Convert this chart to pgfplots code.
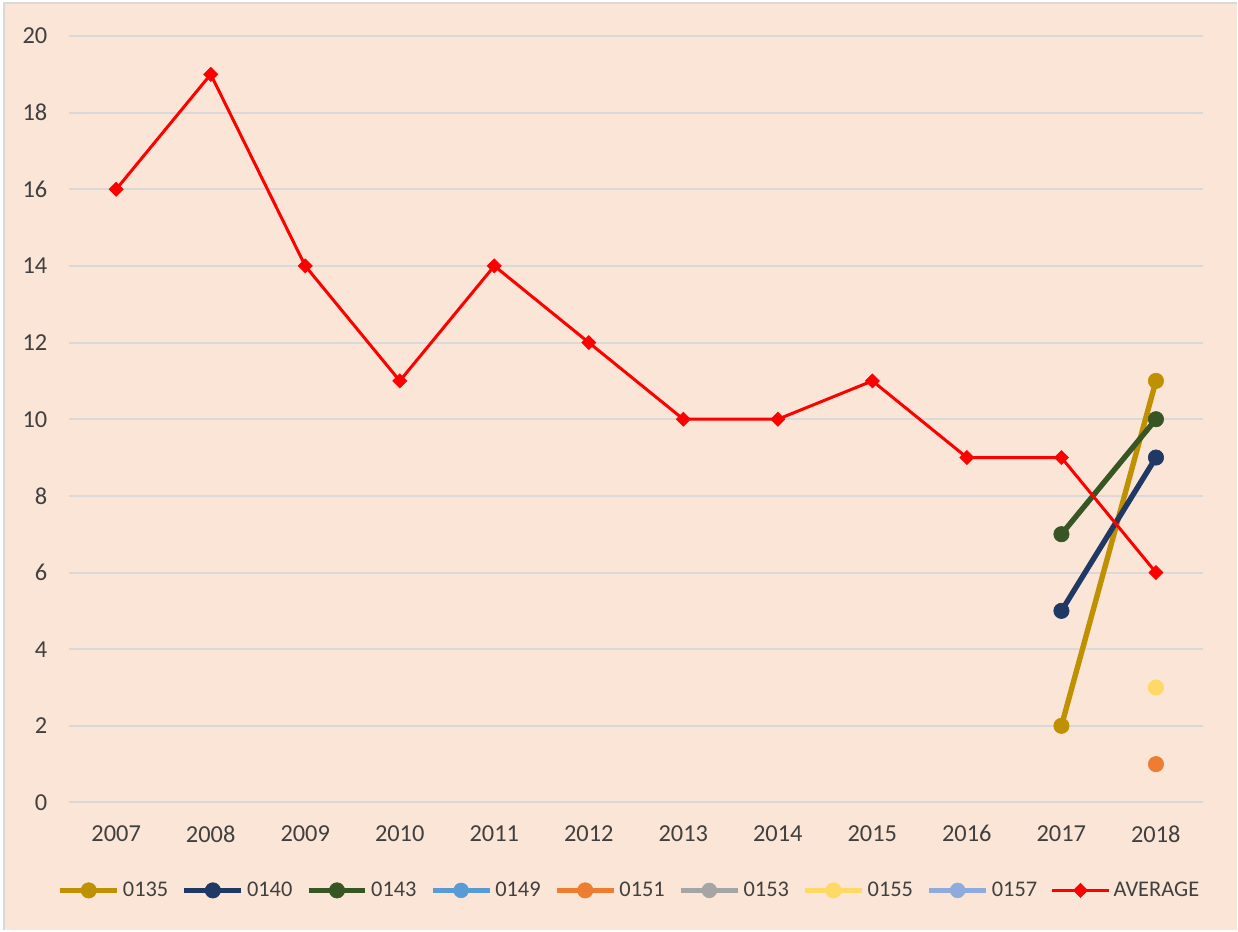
\documentclass[border=0pt]{standalone}
\usepackage{pgfplots}
\pgfplotsset{compat=1.18}
\usepackage{fontspec}
\setmainfont{Carlito}
\definecolor{bg}{HTML}{FBE5D6}
\definecolor{gridc}{HTML}{D9D9D9}
\definecolor{txt}{HTML}{404040}
\definecolor{cA}{HTML}{BF9000}
\definecolor{cB}{HTML}{1F3864}
\definecolor{cC}{HTML}{375623}
\definecolor{cD}{HTML}{5B9BD5}
\definecolor{cE}{HTML}{ED7D31}
\definecolor{cF}{HTML}{A5A5A5}
\definecolor{cG}{HTML}{FFD966}
\definecolor{cH}{HTML}{8FAADC}
\definecolor{cR}{HTML}{FF0000}
\begin{document}
\begin{tikzpicture}
\fill[white] (-34.5pt,-64pt) rectangle (584.5pt,401.5pt);
\fill[bg] (-32.5pt,-64pt) rectangle (584.5pt,400pt);
\draw[gridc,line width=0.8pt] (-32.5pt,-64pt) -- (-32.5pt,400pt) -- (584.5pt,400pt);
\useasboundingbox (-34.5pt,-64pt) rectangle (584.5pt,401.5pt);
\begin{axis}[
  at={(0,0)}, anchor=south west,
  scale only axis, width=567.5pt, height=383.5pt,
  xmin=2006.5, xmax=2018.5, ymin=0, ymax=20,
  xtick={2007,...,2018}, ytick={0,2,...,20},
  xticklabel style={/pgf/number format/1000 sep={}, yshift=-8pt},
  yticklabel style={xshift=-7.3pt},
  /pgf/number format/assume math mode=true,
  ymajorgrids, major grid style={gridc, line width=1pt},
  axis line style={draw=none},
  major tick length=0pt,
  tick label style={font=\fontsize{12.2}{14}\selectfont, text=txt},
  clip=false,
  legend columns=9,
  legend style={at={(axis description cs:0.4945,-0.1147)}, anchor=center,
    draw=none, fill=none, font=\fontsize{11.2}{13}\selectfont, text=txt,
    nodes={inner xsep=1.5pt, inner ysep=1pt},
    /tikz/every even column/.append style={column sep=5.2pt}},
  legend image code/.code={\draw[mark repeat=2, mark phase=2] plot coordinates {(0pt,0pt) (14.25pt,0pt) (28.5pt,0pt)};},
  every axis plot/.append style={line width=2.7pt, mark=*, mark size=3.85pt},
]
\addplot[cA, mark options={fill=cA, draw=cA, line width=0.3pt}] coordinates {(2017,2) (2018,11)};
\addlegendentry{0135}
\addplot[cB, mark options={fill=cB, draw=cB, line width=0.3pt}] coordinates {(2017,5) (2018,9)};
\addlegendentry{0140}
\addplot[cC, mark options={fill=cC, draw=cC, line width=0.3pt}] coordinates {(2017,7) (2018,10)};
\addlegendentry{0143}
\addlegendimage{cD, line width=2.7pt, mark=*, mark size=3.7pt, mark options={fill=cD, draw=cD, line width=0.3pt}}
\addlegendentry{0149}
\addplot[cE, mark options={fill=cE, draw=cE, line width=0.3pt}] coordinates {(2018,1)};
\addlegendentry{0151}
\addlegendimage{cF, line width=2.7pt, mark=*, mark size=3.7pt, mark options={fill=cF, draw=cF, line width=0.3pt}}
\addlegendentry{0153}
\addplot[cG, mark options={fill=cG, draw=cG, line width=0.3pt}] coordinates {(2018,3)};
\addlegendentry{0155}
\addlegendimage{cH, line width=2.7pt, mark=*, mark size=3.7pt, mark options={fill=cH, draw=cH, line width=0.3pt}}
\addlegendentry{0157}
\addplot[cR, line width=1.5pt, mark=square*, mark size=2.5pt, mark options={fill=cR, draw=cR, line width=0.3pt, rotate=45}] coordinates {
(2007,16) (2008,19) (2009,14) (2010,11) (2011,14) (2012,12) (2013,10) (2014,10) (2015,11) (2016,9) (2017,9) (2018,6)};
\addlegendentry{AVERAGE}
\end{axis}
\end{tikzpicture}
\end{document}
